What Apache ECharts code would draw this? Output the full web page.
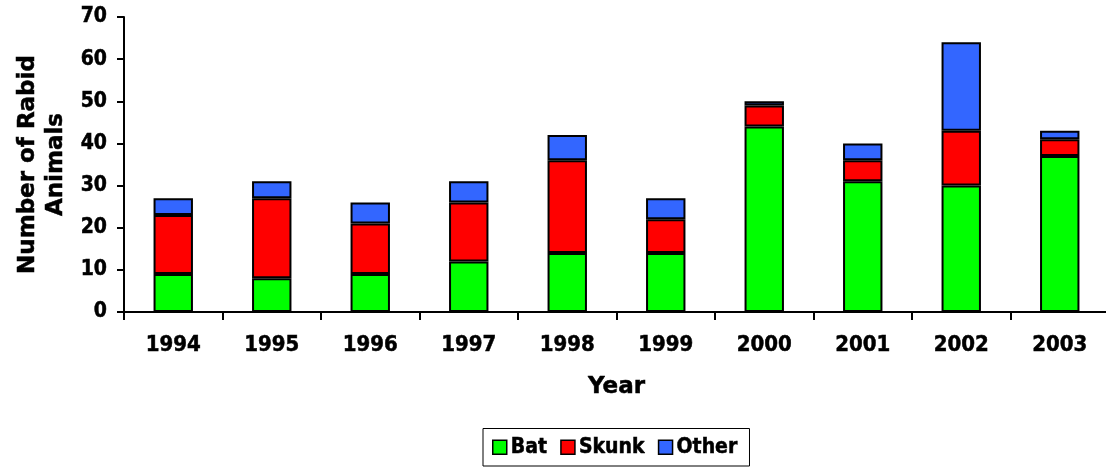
<!DOCTYPE html>
<html>
<head>
<meta charset="utf-8">
<script src="https://cdn.jsdelivr.net/npm/echarts@6/dist/echarts.min.js"></script>
<style>html,body{margin:0;padding:0;background:#fff;}#c{width:1106px;height:468px;}</style>
</head>
<body>
<div id="c"></div>
<script>
var years = ['1994','1995','1996','1997','1998','1999','2000','2001','2002','2003'];
var bat   = [9, 8, 9, 12, 14, 14, 44, 31, 30, 37];
var skunk = [14, 19, 12, 14, 22, 8, 5, 5, 13, 4];
var other = [4, 4, 5, 5, 6, 5, 1, 4, 21, 2];
var yTicks = [0, 10, 20, 30, 40, 50, 60, 70];

var font = 'DejaVu Sans Condensed';
var fontWide = 'DejaVu Sans';
var heavy = { textBorderColor: '#000', textBorderWidth: 0.5 };
var chart = echarts.init(document.getElementById('c'));
function ser(name, data, color) {
  return {
    name: name, type: 'bar', stack: 'a', data: data, barWidth: '40%',
    itemStyle: { color: color, borderColor: '#000', borderWidth: 2 }
  };
}
function ts(o) { return Object.assign({}, heavy, o); }
chart.setOption({
  animation: false,
  grid: { left: 124, right: -3, top: 17, bottom: 156, containLabel: false, outerBoundsMode: 'none' },
  legend: {
    bottom: 2, left: 483,
    itemWidth: 14, itemHeight: 14, itemGap: 13,
    padding: [8, 12, 8, 9],
    borderColor: '#000', borderWidth: 1,
    icon: 'rect',
    textStyle: ts({ fontFamily: font, fontWeight: 'bold', fontSize: 21, color: '#000', padding: [0, 0, 0, -1] }),
    itemStyle: { borderColor: '#000', borderWidth: 1.5 },
    data: ['Bat', 'Skunk', 'Other']
  },
  xAxis: {
    type: 'category', data: years,
    name: 'Year', nameLocation: 'middle', nameGap: 64,
    nameTextStyle: ts({ fontFamily: fontWide, fontWeight: 'bold', fontSize: 23, color: '#000' }),
    axisLine: { lineStyle: { color: '#000', width: 2 } },
    axisTick: { show: true, alignWithLabel: false, length: 8, lineStyle: { color: '#000', width: 2 } },
    axisLabel: ts({ fontFamily: font, fontWeight: 'bold', fontSize: 22, color: '#000', margin: 22 })
  },
  yAxis: {
    type: 'value', min: 0, max: 70, interval: 10,
    name: 'Number of Rabid\nAnimals', nameLocation: 'middle', nameGap: 50, nameRotate: 90,
    nameTextStyle: ts({ fontFamily: fontWide, fontWeight: 'bold', fontSize: 23, color: '#000', lineHeight: 28 }),
    axisLine: { show: true, lineStyle: { color: '#000', width: 2 } },
    axisTick: { show: true, length: 7, lineStyle: { color: '#000', width: 2 } },
    splitLine: { show: false },
    axisLabel: ts({ fontFamily: font, fontWeight: 'bold', fontSize: 21, color: '#000', margin: 17,
      formatter: function (v) { return yTicks.indexOf(v) >= 0 ? String(v) : ''; } })
  },
  series: [
    ser('Bat', bat, '#00FF00'),
    ser('Skunk', skunk, '#FF0000'),
    ser('Other', other, '#3366FF')
  ]
});
</script>
</body>
</html>
